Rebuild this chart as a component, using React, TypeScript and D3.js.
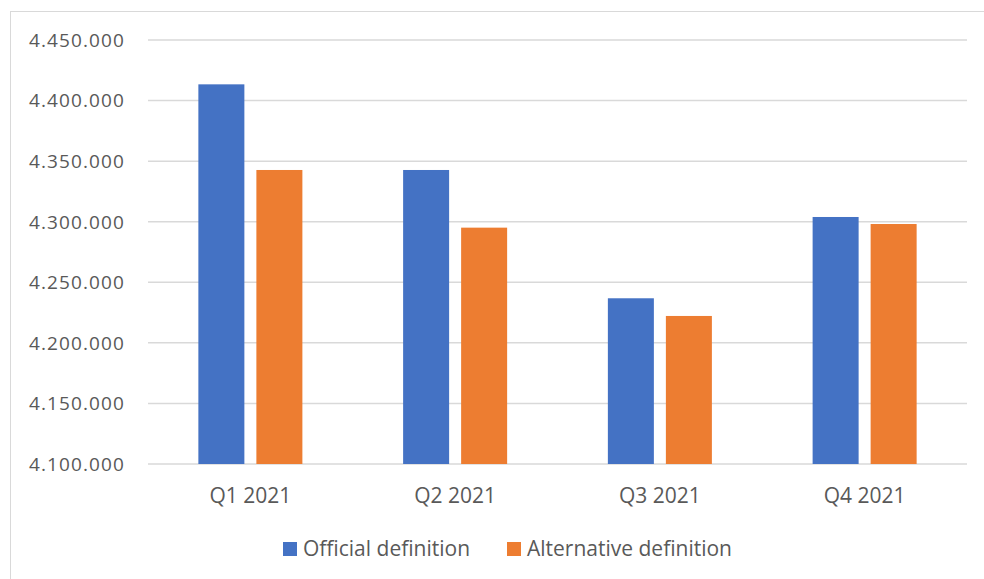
import React from "react";
import * as d3 from "d3";

const categories = ["Q1 2021", "Q2 2021", "Q3 2021", "Q4 2021"];
const seriesNames = ["Official definition", "Alternative definition"];
const officialValues = [4413400, 4342700, 4236800, 4303900];
const alternativeValues = [4342700, 4295100, 4222200, 4298100];
const yTicks = [4100000, 4150000, 4200000, 4250000, 4300000, 4350000, 4400000, 4450000];

const colors = ["#4472C4", "#ED7D31"];
const W = 984;
const H = 579;
const plot = { left: 148, right: 967, top: 40, bottom: 464 };
const font = "'Open Sans', 'Noto Sans', sans-serif";
const textColor = "#595959";

const fmt = (v: number) => d3.format(",")(v).replace(/,/g, ".");

export default function App() {
  const x0 = d3.scaleBand<string>().domain(categories).range([plot.left, plot.right]).padding(0);
  const step = x0.step();
  const groupW = step * 0.508;
  const x1 = d3
    .scaleBand<string>()
    .domain(seriesNames)
    .range([(step - groupW) / 2, (step + groupW) / 2])
    .paddingInner(0.207)
    .paddingOuter(0);
  const y = d3.scaleLinear().domain([4100000, 4450000]).range([plot.bottom, plot.top]);

  const series = [officialValues, alternativeValues];

  return (
    <svg
      width={W}
      height={H}
      style={{ position: "absolute", left: 0, top: 0, background: "#fff" }}
      fontFamily={font}
    >
      <rect x={10.5} y={11.5} width={W + 10} height={H + 10} fill="none" stroke="#d9d9d9" strokeWidth={1} />
      {yTicks.map((t) => (
        <g key={t}>
          <line x1={plot.left} x2={plot.right} y1={y(t)} y2={y(t)} stroke="#d9d9d9" strokeWidth={1.5} />
          <text
            x={125}
            y={y(t)}
            dy="0.36em"
            textAnchor="end"
            fontSize={19}
            letterSpacing={1.1}
            fill={textColor}
          >
            {fmt(t)}
          </text>
        </g>
      ))}
      {categories.map((c, i) => (
        <g key={c} transform={`translate(${x0(c)},0)`}>
          {seriesNames.map((s, j) => (
            <rect
              key={s}
              x={x1(s)}
              y={y(series[j][i])}
              width={x1.bandwidth()}
              height={y(4100000) - y(series[j][i])}
              fill={colors[j]}
            />
          ))}
          <text x={step / 2} y={495} dy="0.36em" textAnchor="middle" fontSize={21} fill={textColor}>
            {c}
          </text>
        </g>
      ))}
      <g>
        <rect x={283} y={542} width={14} height={14} fill={colors[0]} />
        <text x={303} y={556} fontSize={21} fill={textColor}>
          {seriesNames[0]}
        </text>
        <rect x={507} y={542} width={14} height={14} fill={colors[1]} />
        <text x={527} y={556} fontSize={21} fill={textColor}>
          {seriesNames[1]}
        </text>
      </g>
    </svg>
  );
}
